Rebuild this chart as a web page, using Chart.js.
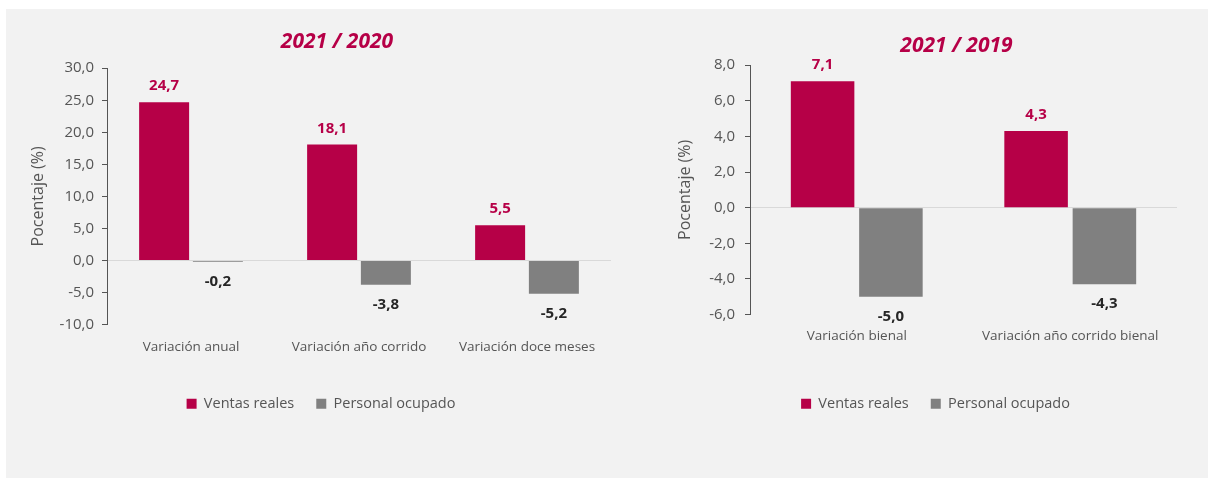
<!DOCTYPE html>
<html>
<head>
  <meta charset="utf-8">
  <title>Ventas reales y personal ocupado</title>
  <script src="https://cdn.jsdelivr.net/npm/chart.js"></script>
  <style>
    body { margin: 0; background: #ffffff; }
    #panel { position: absolute; left: 6px; top: 9px; width: 1202px; height: 469px; background: #f2f2f2; }
    #chart2020 { position: absolute; left: 0; top: 0; }
    #chart2019 { position: absolute; left: 620px; top: 0; }
  </style>
</head>
<body>
  <div id="panel"></div>
  <canvas id="chart2020" width="620" height="479"></canvas>
  <canvas id="chart2019" width="589" height="479"></canvas>

  <script>
    const seriesNames = ['Ventas reales', 'Personal ocupado'];

    const categories2020 = ['Variación anual', 'Variación año corrido', 'Variación doce meses'];
    const ventas2020 = [24.7, 18.1, 5.5];
    const personal2020 = [-0.2, -3.8, -5.2];

    const categories2019 = ['Variación bienal', 'Variación año corrido bienal'];
    const ventas2019 = [7.1, 4.3];
    const personal2019 = [-5.0, -4.3];

    const RED = '#b60047';
    const GRAY = '#808080';
    const TEXT = '#555555';
    const FONT = '"Open Sans", sans-serif';

    function fmt(v) {
      return v.toFixed(1).replace('.', ',');
    }

    // value labels above / below each bar
    const valueLabels = {
      id: 'valueLabels',
      afterDatasetsDraw(chart) {
        const ctx = chart.ctx;
        ctx.save();
        ctx.font = 'bold 15px ' + FONT;
        ctx.textAlign = 'center';
        ctx.textBaseline = 'middle';
        chart.data.datasets.forEach((ds, i) => {
          chart.getDatasetMeta(i).data.forEach((bar, j) => {
            const v = ds.data[j];
            ctx.fillStyle = ds.labelColor;
            ctx.fillText(fmt(v), bar.x, v >= 0 ? bar.y - 16 : bar.y + 20);
          });
        });
        ctx.restore();
      }
    };

    // nudge title and legend sideways after layout
    const shiftBlocks = {
      id: 'shiftBlocks',
      afterLayout(chart, args, opts) {
        if (chart.titleBlock) {
          chart.titleBlock.left += opts.title;
          chart.titleBlock.right += opts.title;
        }
        if (chart.legend) {
          chart.legend.left += opts.legend;
          chart.legend.right += opts.legend;
        }
      }
    };

    function makeChart(id, cfg) {
      return new Chart(document.getElementById(id), {
        type: 'bar',
        data: {
          labels: cfg.categories,
          datasets: [{
            label: seriesNames[0],
            data: cfg.ventas,
            backgroundColor: RED,
            labelColor: RED,
            categoryPercentage: 0.64,
            barPercentage: 0.93
          }, {
            label: seriesNames[1],
            data: cfg.personal,
            backgroundColor: GRAY,
            labelColor: '#262626',
            categoryPercentage: 0.64,
            barPercentage: 0.93
          }]
        },
        options: {
          responsive: false,
          animation: false,
          layout: { padding: cfg.padding },
          scales: {
            x: {
              grid: { display: false, drawTicks: false },
              border: { display: false },
              ticks: {
                color: TEXT,
                font: { family: FONT, size: 13.5 },
                padding: cfg.xPad,
                maxRotation: 0,
                autoSkip: false
              },
              afterFit: (axis) => { axis.height = cfg.xHeight; }
            },
            y: {
              min: cfg.yMin,
              max: cfg.yMax,
              ticks: {
                stepSize: cfg.yStep,
                color: TEXT,
                font: { family: FONT, size: 15 },
                padding: cfg.yPad,
                callback: (v) => fmt(v)
              },
              grid: {
                color: (c) => (c.tick && c.tick.value === 0) ? '#d9d9d9' : 'transparent',
                tickColor: TEXT,
                tickLength: 5
              },
              border: { color: TEXT, width: 1 },
              title: {
                display: true,
                text: 'Pocentaje (%)',
                color: TEXT,
                font: { family: FONT, size: 16 },
                padding: { top: 8, bottom: 0 }
              },
              afterFit: (axis) => { axis.width = cfg.yWidth; }
            }
          },
          plugins: {
            title: {
              display: true,
              text: cfg.title,
              color: RED,
              font: { family: FONT, size: 21, weight: 'bold', style: 'italic' },
              padding: cfg.titlePad
            },
            legend: {
              position: 'bottom',
              labels: {
                boxWidth: 10,
                boxHeight: 10,
                padding: 22,
                color: TEXT,
                font: { family: FONT, size: 14.5 }
              }
            },
            tooltip: { enabled: false },
            shiftBlocks: cfg.shift
          }
        },
        plugins: [valueLabels, shiftBlocks]
      });
    }

    makeChart('chart2020', {
      title: '2021 / 2020',
      categories: categories2020,
      ventas: ventas2020,
      personal: personal2020,
      yMin: -10, yMax: 30, yStep: 5,
      padding: { left: 21, right: 9, top: 0, bottom: 58 },
      titlePad: { top: 29, bottom: 14 },
      yWidth: 86, yPad: 8,
      xHeight: 50, xPad: 15,
      shift: { title: 21, legend: 5 }
    });

    makeChart('chart2019', {
      title: '2021 / 2019',
      categories: categories2019,
      ventas: ventas2019,
      personal: personal2019,
      yMin: -6, yMax: 8, yStep: 2,
      padding: { left: 48, right: 32, top: 0, bottom: 58 },
      titlePad: { top: 33, bottom: 7 },
      yWidth: 82, yPad: 10,
      xHeight: 60, xPad: 14,
      shift: { title: 34, legend: 13 }
    });
  </script>
</body>
</html>
